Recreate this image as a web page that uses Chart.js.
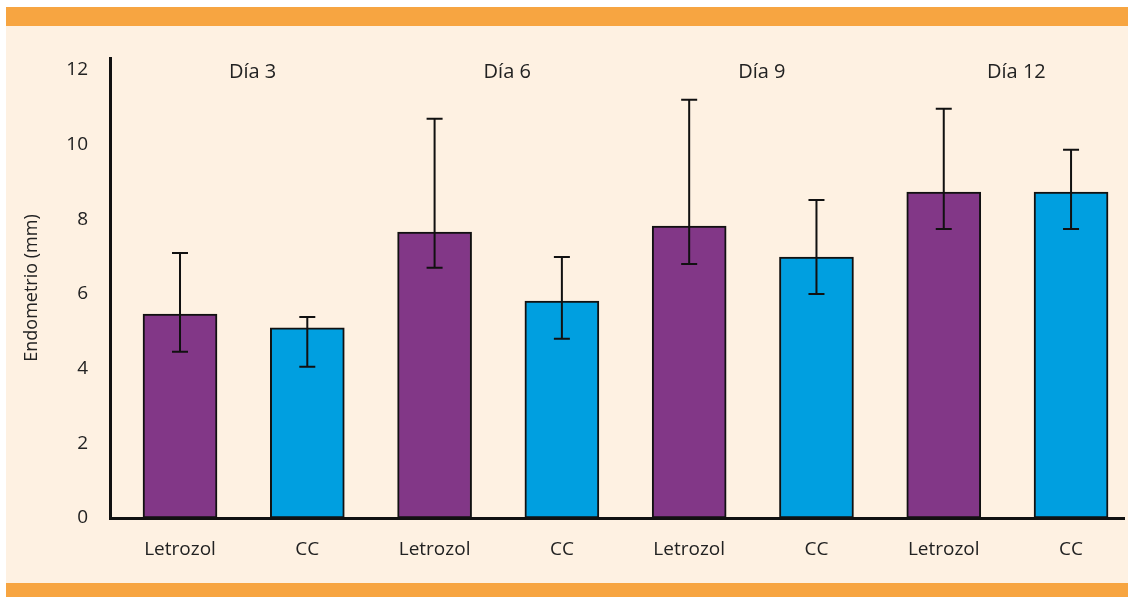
<!DOCTYPE html>
<html>
<head>
<meta charset="utf-8">
<script src="https://cdn.jsdelivr.net/npm/chart.js@4"></script>
<style>
  html, body { margin: 0; padding: 0; background: #ffffff; }
  canvas { display: block; }
</style>
</head>
<body>
<canvas id="grafico" width="1128" height="597"></canvas>
<script>
// datos
const categorias = ['Letrozol', 'CC', 'Letrozol', 'CC', 'Letrozol', 'CC', 'Letrozol', 'CC'];
const dias = ['Día 3', 'Día 6', 'Día 9', 'Día 12'];
const medias = [5.46, 5.09, 7.66, 5.81, 7.82, 6.99, 8.73, 8.73];
const errorSuperior = [7.1, 5.38, 10.69, 6.99, 11.2, 8.52, 10.96, 9.86];
const errorInferior = [4.45, 4.05, 6.7, 4.8, 6.8, 6.0, 7.74, 7.74];
const ticksY = [0, 2, 4, 6, 8, 10, 12];

const morado = '#823787';
const azul = '#009fe0';
const crema = '#fef1e2';
const naranja = '#f7a541';
const fuente = '"Open Sans", Lato, sans-serif';

const fondo = {
    id: 'fondo',
    beforeDraw(chart) {
        const ctx = chart.ctx;
        ctx.save();
        ctx.fillStyle = '#ffffff';
        ctx.fillRect(0, 0, chart.width, chart.height);
        ctx.fillStyle = crema;
        ctx.fillRect(6, 7, chart.width - 6, chart.height - 7);
        ctx.fillStyle = naranja;
        ctx.fillRect(6, 7, chart.width - 6, 19);
        ctx.fillRect(6, 583, chart.width - 6, chart.height - 583);
        ctx.restore();
    }
};

const barrasError = {
    id: 'barrasError',
    afterDatasetsDraw(chart) {
        const ctx = chart.ctx;
        const x = chart.scales.x;
        const y = chart.scales.y;
        ctx.save();
        ctx.strokeStyle = '#111';
        ctx.lineWidth = 2;
        medias.forEach((m, i) => {
            const px = x.getPixelForValue(i + 1);
            const arriba = y.getPixelForValue(errorSuperior[i]);
            const abajo = y.getPixelForValue(errorInferior[i]);
            ctx.beginPath();
            ctx.moveTo(px, arriba);
            ctx.lineTo(px, abajo);
            ctx.moveTo(px - 8, arriba);
            ctx.lineTo(px + 8, arriba);
            ctx.moveTo(px - 8, abajo);
            ctx.lineTo(px + 8, abajo);
            ctx.stroke();
        });
        // etiquetas de dia encima de cada par
        ctx.fillStyle = '#222';
        ctx.font = '20px ' + fuente;
        ctx.textAlign = 'center';
        ctx.textBaseline = 'middle';
        dias.forEach((d, j) => {
            const px = (x.getPixelForValue(2 * j + 1) + x.getPixelForValue(2 * j + 2)) / 2 + 9;
            ctx.fillText(d, px, y.getPixelForValue(12) + 2);
        });
        ctx.restore();
    }
};

new Chart(document.getElementById('grafico'), {
    type: 'bar',
    data: {
        datasets: [{
            data: medias.map((v, i) => ({ x: i + 1, y: v })),
            backgroundColor: categorias.map((c) => c === 'CC' ? azul : morado),
            borderColor: '#111',
            borderWidth: 2,
            borderSkipped: false,
            barThickness: 74
        }]
    },
    options: {
        responsive: false,
        animation: false,
        events: [],
        layout: { padding: { left: 0, top: 58, right: 4, bottom: 19 } },
        plugins: { legend: { display: false }, tooltip: { enabled: false } },
        scales: {
            x: {
                type: 'linear',
                offset: false,
                min: 0.45,
                max: 8.416,
                grid: { display: false, drawTicks: false },
                border: { display: true, color: '#111', width: 3 },
                afterBuildTicks: (scale) => { scale.ticks = categorias.map((c, i) => ({ value: i + 1 })); },
                afterFit: (scale) => { scale.height = 60; },
                ticks: {
                    padding: 20,
                    color: '#222',
                    font: { family: fuente, size: 19 },
                    callback: (v) => categorias[Math.round(v) - 1] || ''
                }
            },
            y: {
                min: 0,
                max: 12.32,
                grid: { display: false, drawTicks: false },
                border: { display: true, color: '#111', width: 3 },
                afterBuildTicks: (scale) => { scale.ticks = ticksY.map((v) => ({ value: v })); },
                afterFit: (scale) => { scale.width = 110; },
                ticks: {
                    padding: 22,
                    color: '#222',
                    font: { family: fuente, size: 19 }
                },
                title: {
                    display: true,
                    text: 'Endometrio (mm)',
                    color: '#222',
                    font: { family: fuente, size: 18 },
                    padding: { top: 21, bottom: 0 }
                }
            }
        }
    },
    plugins: [fondo, barrasError]
});
</script>
</body>
</html>
